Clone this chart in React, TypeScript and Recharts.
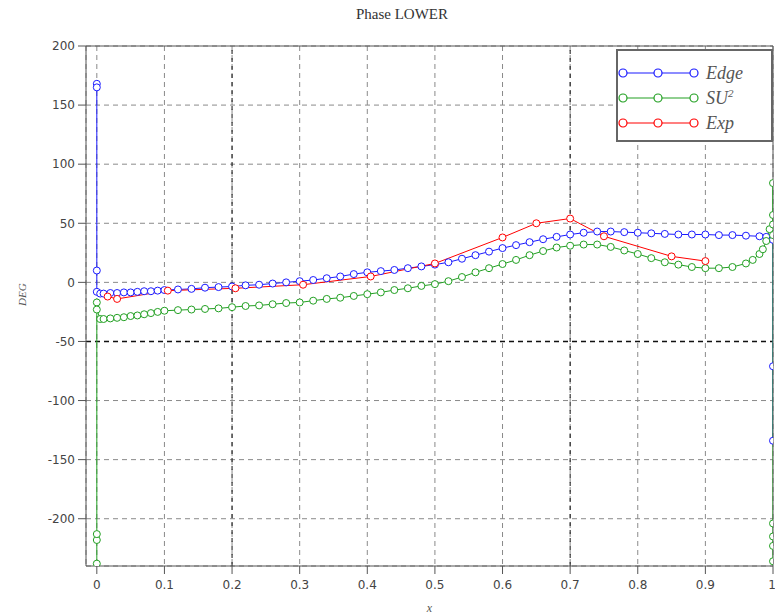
import {
  LineChart,
  Line,
  XAxis,
  YAxis,
  CartesianGrid,
  ReferenceLine,
} from "recharts";

const EDGE_X = [
  0, 0, 0, 0, 0.005, 0.01, 0.02, 0.03, 0.04, 0.05, 0.06, 0.07, 0.08, 0.09, 0.1,
  0.12, 0.14, 0.16, 0.18, 0.2, 0.22, 0.24, 0.26, 0.28, 0.3, 0.32, 0.34, 0.36,
  0.38, 0.4, 0.42, 0.44, 0.46, 0.48, 0.5, 0.52, 0.54, 0.56, 0.58, 0.6, 0.62,
  0.64, 0.66, 0.68, 0.7, 0.72, 0.74, 0.76, 0.78, 0.8, 0.82, 0.84, 0.86, 0.88,
  0.9, 0.92, 0.94, 0.96, 0.98, 0.99, 1, 1, 1,
];
const EDGE_Y = [
  168, 165, 10, -8, -9.5, -9.5, -9, -9, -8.5, -8.5, -8, -7.5, -7.5, -7, -6.5,
  -6, -5.5, -4.5, -4, -3.5, -2.5, -2, -1, 0, 1, 2, 3.5, 5, 7, 8.5, 9.5, 10.5,
  12, 13.5, 15, 17, 20, 23, 26, 29, 31.5, 34, 36.5, 38.5, 40.5, 42, 43, 43,
  42.5, 42, 41.5, 41, 40.5, 40.5, 40.5, 40, 40, 39.5, 39, 38.5, 36, -71, -134,
];

const SU2_X = [
  0, 0, 0, 0, 0, 0.005, 0.01, 0.02, 0.03, 0.04, 0.05, 0.06, 0.07, 0.08, 0.09,
  0.1, 0.12, 0.14, 0.16, 0.18, 0.2, 0.22, 0.24, 0.26, 0.28, 0.3, 0.32, 0.34,
  0.36, 0.38, 0.4, 0.42, 0.44, 0.46, 0.48, 0.5, 0.52, 0.54, 0.56, 0.58, 0.6,
  0.62, 0.64, 0.66, 0.68, 0.7, 0.72, 0.74, 0.76, 0.78, 0.8, 0.82, 0.84, 0.86,
  0.88, 0.9, 0.92, 0.94, 0.96, 0.97, 0.98, 0.985, 0.99, 0.995, 1, 1, 1, 1, 1, 1,
  1, 1,
];
const SU2_Y = [
  -238, -218, -213, -17, -23, -31, -31, -30.5, -30, -29.5, -28.5, -28, -27,
  -26, -25, -24, -23.5, -23, -22.5, -22, -21, -20, -19.5, -18.5, -17.5, -17,
  -15.5, -14, -13, -11.5, -10, -8.5, -6.5, -5, -3, -1.5, 1, 4.5, 8.5, 12,
  15.5, 19, 23, 26.5, 29.5, 31, 32, 32, 30, 27, 24, 20.5, 17, 15, 13, 12, 12,
  13, 16, 19, 24, 28, 35, 45, 49, 57, 84, 40, -204, -215, -223, -236,
];

const EXP_X = [0.016, 0.03, 0.105, 0.205, 0.305, 0.405, 0.5, 0.6, 0.65, 0.7, 0.75, 0.85, 0.9];
const EXP_Y = [-12, -14, -7, -5, -2, 5, 16, 38, 50, 54, 39, 22, 18];

const X_TICKS = [0, 0.1, 0.2, 0.3, 0.4, 0.5, 0.6, 0.7, 0.8, 0.9, 1];
const Y_TICKS = [-200, -150, -100, -50, 0, 50, 100, 150, 200];

const SERIES = [
  { name: "Edge", xs: EDGE_X, ys: EDGE_Y, color: "#1a1aff" },
  { name: "SU2", xs: SU2_X, ys: SU2_Y, color: "#22a022" },
  { name: "Exp", xs: EXP_X, ys: EXP_Y, color: "#ff0000" },
];

const toRows = (xs: number[], ys: number[]) => xs.map((x, i) => ({ x, y: ys[i] }));

const tickStyle = { fill: "#444", fontSize: 12, fontFamily: "DejaVu Sans" };

function LegendBox() {
  const rows = [
    { label: "Edge", color: SERIES[0].color, sup: false },
    { label: "SU", color: SERIES[1].color, sup: true },
    { label: "Exp", color: SERIES[2].color, sup: false },
  ];
  return (
    <div
      style={{
        position: "absolute",
        left: 616,
        top: 49,
        width: 153,
        height: 89,
        background: "#fff",
        border: "2px solid #666",
      }}
    >
      <svg width={153} height={89}>
        {rows.map((r, i) => {
          const y = 22 + i * 25;
          return (
            <g key={r.label}>
              <line x1={5} x2={76} y1={y} y2={y} stroke={r.color} strokeWidth={1.2} />
              {[5, 40, 76].map((cx) => (
                <circle key={cx} cx={cx} cy={y} r={4} fill="#fff" stroke={r.color} strokeWidth={1.2} />
              ))}
              <text
                x={88}
                y={y + 6}
                fill="#555"
                fontSize={18}
                fontStyle="italic"
                fontFamily="Liberation Serif"
              >
                {r.label}
                {r.sup && (
                  <tspan dy={-7} fontSize={11}>
                    2
                  </tspan>
                )}
              </text>
            </g>
          );
        })}
      </svg>
    </div>
  );
}

export default function App() {
  return (
    <div style={{ position: "relative", width: 775, height: 614, background: "#fff" }}>
      <style>{"body{margin:0}"}</style>
      <div
        style={{
          position: "absolute",
          left: 0,
          width: 804,
          top: 6,
          textAlign: "center",
          fontFamily: "Liberation Serif",
          fontSize: 15,
          color: "#333",
        }}
      >
        Phase LOWER
      </div>
      <LineChart
        width={775}
        height={614}
        margin={{ top: 46, right: 2, bottom: 0, left: 10 }}
      >
        <CartesianGrid stroke="#8a8a8a" strokeDasharray="5 4" />
        <XAxis
          type="number"
          dataKey="x"
          domain={[-0.016, 1]}
          ticks={X_TICKS}
          tickFormatter={(v: number) => String(v)}
          height={48}
          tick={tickStyle}
          tickSize={8}
          tickMargin={6}
          stroke="#555"
          allowDataOverflow
          label={{
            value: "x",
            position: "insideBottom",
            offset: 2,
            fill: "#555",
            fontStyle: "italic",
            fontFamily: "Liberation Serif",
            fontSize: 12,
          }}
        />
        <YAxis
          type="number"
          domain={[-240, 200]}
          ticks={Y_TICKS}
          width={76}
          tick={tickStyle}
          tickSize={8}
          tickMargin={3}
          stroke="#555"
          allowDataOverflow
          label={{
            value: "DEG",
            angle: -90,
            position: "insideLeft",
            offset: 12,
            fill: "#555",
            fontStyle: "italic",
            fontFamily: "Liberation Serif",
            fontSize: 11,
          }}
        />
        <ReferenceLine x={0.2} stroke="#111" strokeDasharray="4 4" />
        <ReferenceLine x={0.7} stroke="#111" strokeDasharray="4 4" />
        <ReferenceLine y={-50} stroke="#111" strokeDasharray="5 4" strokeWidth={1.5} />
        <ReferenceLine y={200} stroke="#555" />
        <ReferenceLine x={1} stroke="#555" />
        {SERIES.map((s) => (
          <Line
            key={s.name}
            data={toRows(s.xs, s.ys)}
            dataKey="y"
            name={s.name}
            type="linear"
            stroke={s.color}
            strokeWidth={1}
            dot={{ r: 3.5, fill: "#fff", stroke: s.color, strokeWidth: 1 }}
            isAnimationActive={false}
          />
        ))}
      </LineChart>
      <LegendBox />
    </div>
  );
}
